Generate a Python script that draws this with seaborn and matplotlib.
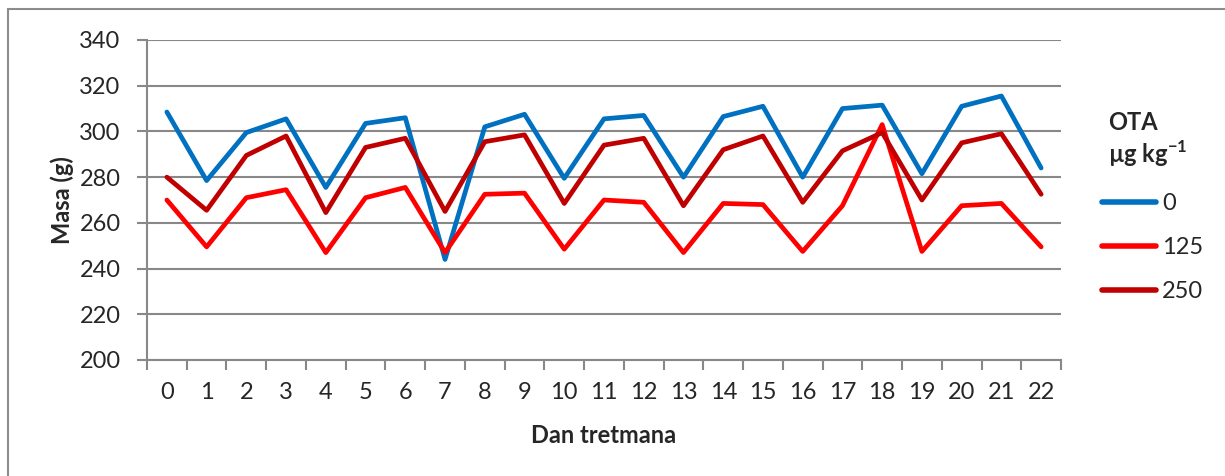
import numpy as np
import pandas as pd
import matplotlib
matplotlib.use("Agg")
import matplotlib.pyplot as plt
from matplotlib.lines import Line2D
from matplotlib.patches import Rectangle
import seaborn as sns

# ---------------- data ----------------
days = list(range(23))
ota_0 = [308.5, 278.5, 299.5, 305.5, 275.5, 303.5, 306, 244, 302, 307.5, 279.5, 305.5,
         307, 280, 306.5, 311, 280, 310, 311.5, 281.5, 311, 315.5, 284]
ota_125 = [270, 249.5, 271, 274.5, 247, 271, 275.5, 247, 272.5, 273, 248.5, 270,
           269, 247, 268.5, 268, 247.5, 267.5, 303, 247.5, 267.5, 268.5, 249.5]
ota_250 = [280, 265.5, 289.5, 298, 264.5, 293, 297, 265, 295.5, 298.5, 268.5, 294,
           297, 267.5, 292, 298, 269, 291.5, 299.5, 270, 295, 299, 272.5]
series_names = ["0", "125", "250"]
colors = ["#0070C0", "#FF0000", "#C00000"]
y_ticks = [200, 220, 240, 260, 280, 300, 320, 340]

df = pd.DataFrame({
    "Dan": days * 3,
    "Masa": ota_0 + ota_125 + ota_250,
    "OTA": [series_names[0]] * 23 + [series_names[1]] * 23 + [series_names[2]] * 23,
})

# ---------------- style ----------------
sns.set_style("white")
plt.rcParams["font.family"] = ["Lato", "DejaVu Sans"]
plt.rcParams["mathtext.fontset"] = "custom"
plt.rcParams["mathtext.rm"] = "Lato"
plt.rcParams["mathtext.bf"] = "Lato:bold"

FS = 17
W, H = 1225, 476
fig = plt.figure(figsize=(W / 100, H / 100), dpi=100)
left, right, top, bottom = 147, 1061, 40, 360
ax = fig.add_axes([left / W, 1 - bottom / H, (right - left) / W, (bottom - top) / H])

palette = dict(zip(series_names, colors))
sns.lineplot(data=df, x="Dan", y="Masa", hue="OTA", palette=palette, ax=ax,
             linewidth=3.4, legend=False, solid_joinstyle="round", solid_capstyle="round")

grid_c = "#888888"
ax.set_xlim(-0.5, 22.5)
ax.set_ylim(200, 340)
ax.set_yticks(y_ticks)
ax.set_xticks(days)
ax.set_xticklabels([str(d) for d in days])
ax.set_xticks(np.arange(-0.5, 23, 1), minor=True)
ax.grid(axis="y", color=grid_c, linewidth=1.5)
ax.grid(axis="x", visible=False)
ax.set_axisbelow(True)
for s in ["top", "right"]:
    ax.spines[s].set_visible(False)
for s in ["left", "bottom"]:
    ax.spines[s].set_color(grid_c)
    ax.spines[s].set_linewidth(1.5)

ax.tick_params(axis="y", which="major", length=7, width=1.5, color=grid_c,
               labelsize=FS, pad=12, left=True, direction="out")
ax.tick_params(axis="x", which="major", length=0, labelsize=FS, pad=16)
ax.tick_params(axis="x", which="minor", length=7, width=1.5, color=grid_c,
               bottom=True, direction="out")

ax.set_xlabel("Dan tretmana", fontsize=FS, fontweight="bold", labelpad=15)
ax.set_ylabel("Masa (g)", fontsize=FS, fontweight="bold", labelpad=4)

# legend
fig.text(1108 / W, 1 - 123 / H, "OTA", fontsize=FS, fontweight="bold", va="center", ha="left")
fig.text(1108 / W, 1 - 154 / H, r"µg kg$^{\mathbf{-1}}$", fontsize=FS, fontweight="bold",
         va="center", ha="left")
handles = [Line2D([0], [0], color=c, linewidth=4.0, solid_capstyle="round") for c in colors]
fig.legend(handles, series_names, loc="upper left",
           bbox_to_anchor=(1102 / W, 1 - 193 / H), frameon=False, fontsize=FS,
           handlelength=2.3, handletextpad=0.25, labelspacing=0.97, borderpad=0,
           borderaxespad=0)

# outer chart border
fig.patches.append(Rectangle((8 / W, -0.1), 1.2, 1 - 9 / H + 0.1, transform=fig.transFigure,
                             fill=False, edgecolor="#8c8c8c", linewidth=1.5))

fig.savefig("out.png", dpi=100)
